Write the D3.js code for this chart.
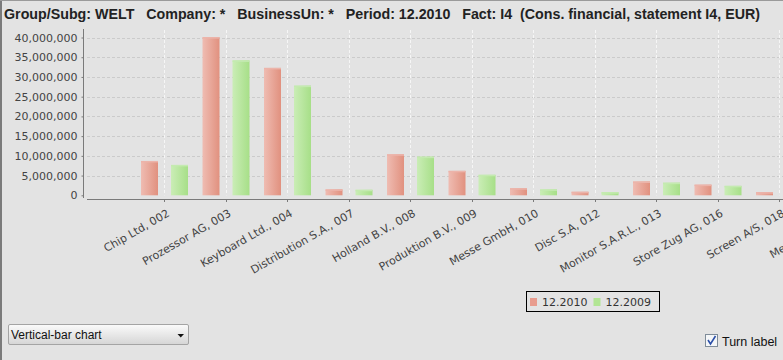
<!DOCTYPE html>
<html>
<head>
<meta charset="utf-8">
<script src="https://cdn.jsdelivr.net/npm/d3@7"></script>
<style>
html,body{margin:0;padding:0;background:#e3e3e3;overflow:hidden;}
svg{display:block;}
</style>
</head>
<body>
<svg id="chart" width="783" height="360"></svg>
<script>
// ---- data ----
const categories = ["Chip Ltd, 002", "Prozessor AG, 003", "Keyboard Ltd., 004", "Distribution S.A., 007",
  "Holland B.V., 008", "Produktion B.V., 009", "Messe GmbH, 010", "Disc S.A, 012",
  "Monitor S.A.R.L., 013", "Store Zug AG, 016", "Screen A/S, 018", "Media S.A., 019"];
const series = ["12.2010", "12.2009"];
const values2010 = [8700000, 40100000, 32300000, 1500000, 10400000, 6200000, 1800000, 900000, 3500000, 2700000, 800000, 900000];
const values2009 = [7700000, 34200000, 27800000, 1400000, 9800000, 5200000, 1500000, 800000, 3200000, 2400000, 700000, 800000];
const yTicks = [0, 5000000, 10000000, 15000000, 20000000, 25000000, 30000000, 35000000, 40000000];
const titleText = "Group/Subg: WELT   Company: *   BusinessUn: *   Period: 12.2010   Fact: I4  (Cons. financial, statement I4, EUR)";
const dropdownLabel = "Vertical-bar chart";
const checkboxLabel = "Turn label";

// ---- layout ----
const W = 783, H = 360;
const plotLeft = 87, plotTop = 30, plotBottom = 195.3;
const svg = d3.select("#chart");
const tickFont = "'DejaVu Sans', sans-serif";
const uiFont = "'Liberation Sans', Arial, sans-serif";

const defs = svg.append("defs");
function grad(id, c1, c2) {
  const g = defs.append("linearGradient").attr("id", id).attr("x1", 0).attr("x2", 1).attr("y1", 0).attr("y2", 0);
  g.append("stop").attr("offset", "0%").attr("stop-color", c1);
  g.append("stop").attr("offset", "100%").attr("stop-color", c2);
}
grad("gRed", "#efbcb2", "#e1917f");
grad("gGreen", "#caedb6", "#a7df88");
const dg = defs.append("linearGradient").attr("id", "gDrop").attr("x1", 0).attr("x2", 0).attr("y1", 0).attr("y2", 1);
dg.append("stop").attr("offset", "0%").attr("stop-color", "#fbfbfb");
dg.append("stop").attr("offset", "100%").attr("stop-color", "#d5d5d5");

svg.append("rect").attr("width", W).attr("height", H).attr("fill", "#e3e3e3");
// frame
svg.append("rect").attr("x", 0).attr("y", 0).attr("width", 2).attr("height", H).attr("fill", "#7b7b7b");
svg.append("rect").attr("x", 0).attr("y", 0).attr("width", W).attr("height", 1).attr("fill", "#9a9a9a");

// ---- title ----
svg.append("text").attr("x", 4).attr("y", 18.5)
  .style("white-space", "pre")
  .attr("textLength", 756).attr("lengthAdjust", "spacingAndGlyphs")
  .attr("font-family", uiFont).attr("font-weight", "bold").attr("font-size", 14.3)
  .attr("fill", "#222").text(titleText);

// ---- scales ----
const y = d3.scaleLinear().domain([0, 40000000]).range([plotBottom, 37.5]);
const step = 61.5;
const x0 = d3.scaleBand().domain(categories).range([164.3 - step / 2, 164.3 - step / 2 + step * categories.length]);
const x1 = d3.scaleBand().domain(series).range([7.45, 54.45]).paddingInner(0.4333);

// gridlines
svg.append("g").selectAll("line").data(yTicks.filter(t => t > 0)).join("line")
  .attr("x1", plotLeft).attr("x2", W).attr("y1", d => Math.round(y(d)) + 0.5).attr("y2", d => Math.round(y(d)) + 0.5)
  .attr("stroke", "#cbcbcb").attr("stroke-dasharray", "3,2");
svg.append("g").selectAll("line").data(categories).join("line")
  .attr("x1", d => Math.round(x0(d) + step / 2) + 0.5).attr("x2", d => Math.round(x0(d) + step / 2) + 0.5)
  .attr("y1", plotTop).attr("y2", plotBottom)
  .attr("stroke", "#f6f6f6").attr("stroke-dasharray", "3,2");

// bars
const rows = categories.map((c, i) => ({ c, v: [values2010[i], values2009[i]] }));
const fills = ["url(#gRed)", "url(#gGreen)"];
const tops = ["#ecb4aa", "#c4eab0"];
const gBars = svg.append("g");
rows.forEach(r => {
  series.forEach((s, j) => {
    const bx = x0(r.c) + x1(s), bw = x1.bandwidth();
    const by = y(r.v[j]), bh = plotBottom - by;
    gBars.append("rect").attr("x", bx).attr("y", by).attr("width", bw).attr("height", bh).attr("fill", fills[j]);
    gBars.append("rect").attr("x", bx).attr("y", by).attr("width", bw).attr("height", Math.min(1.5, bh)).attr("fill", tops[j]);
  });
});

// y axis
const yAxis = d3.axisLeft(y).tickValues(yTicks).tickSize(2).tickPadding(4).tickFormat(d3.format(",")).tickSizeOuter(0);
const ga = svg.append("g").attr("transform", "translate(83.5,0)").call(yAxis);
ga.select(".domain").remove();
ga.append("line").attr("x1", 0).attr("x2", 0).attr("y1", 29).attr("y2", 198).attr("stroke", "#7a7a7a");
ga.selectAll(".tick line").attr("stroke", "#7a7a7a");
ga.selectAll(".tick text").attr("font-family", tickFont).attr("font-size", 11).attr("fill", "#444");

// x axis
const gx = svg.append("g");
gx.append("line").attr("x1", plotLeft).attr("x2", W).attr("y1", 199.5).attr("y2", 199.5).attr("stroke", "#7a7a7a");
gx.selectAll("line.t").data(categories).join("line").attr("class", "t")
  .attr("x1", d => Math.round(x0(d) + step / 2) + 0.5).attr("x2", d => Math.round(x0(d) + step / 2) + 0.5)
  .attr("y1", 199.5).attr("y2", 202).attr("stroke", "#7a7a7a");
gx.selectAll("text").data(categories).join("text")
  .attr("transform", d => `translate(${x0(d) + step / 2 + 6},215.5) rotate(-30)`)
  .attr("text-anchor", "end").attr("font-family", tickFont).attr("font-size", 11).attr("fill", "#444")
  .text(d => d);

// ---- legend ----
const lg = svg.append("g");
lg.append("rect").attr("x", 526.5).attr("y", 291.5).attr("width", 133).attr("height", 20).attr("fill", "none").attr("stroke", "#000");
const legendX = [530, 593.5];
const legendColors = ["#e89c8e", "#b2e594"];
series.forEach((s, j) => {
  lg.append("rect").attr("x", legendX[j]).attr("y", 298).attr("width", 7).attr("height", 8).attr("fill", legendColors[j]);
  lg.append("text").attr("x", legendX[j] + 12).attr("y", 306).attr("font-family", tickFont).attr("font-size", 11)
    .attr("fill", "#333").text(s);
});

// ---- dropdown ----
const dd = svg.append("g");
dd.append("rect").attr("x", 8.5).attr("y", 324.5).attr("width", 180).attr("height", 20).attr("rx", 1.5)
  .attr("fill", "url(#gDrop)").attr("stroke", "#a4a4a4");
dd.append("text").attr("x", 11).attr("y", 338.5).attr("font-family", uiFont).attr("font-size", 12).attr("fill", "#111").text(dropdownLabel);
dd.append("path").attr("d", "M177.5,334 L184,334 L180.75,337.5 Z").attr("fill", "#111");

// ---- checkbox ----
const cb = svg.append("g");
cb.append("rect").attr("x", 705.5).attr("y", 334.5).attr("width", 12).attr("height", 12).attr("fill", "#f4f6f8").attr("stroke", "#7f8c99");
cb.append("path").attr("d", "M708,340 L710.5,344 L715.5,336").attr("fill", "none").attr("stroke", "#2b4fa8").attr("stroke-width", 1.6);
cb.append("text").attr("x", 722).attr("y", 345.5).attr("font-family", uiFont).attr("font-size", 12.5).attr("fill", "#111").text(checkboxLabel);
</script>
</body>
</html>
